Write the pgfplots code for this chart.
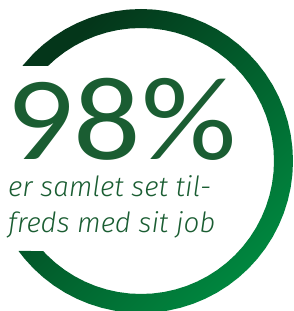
\documentclass[border=0pt]{standalone}
\usepackage{pgfplots}
\pgfplotsset{compat=1.18}
\usepackage{fontspec}
\newfontfamily\numfont{Carlito}
\newfontfamily\hand{Fira Sans Light}
\definecolor{ringDark}{HTML}{04361A}
\definecolor{ringMid}{HTML}{0A5A2C}
\definecolor{ringLight}{HTML}{00873F}
\definecolor{textGreen}{HTML}{1A5D32}
\begin{document}
\begin{tikzpicture}
\useasboundingbox (0,0) rectangle (294pt,311pt);
\begin{axis}[at={(0,0)}, anchor=south west, scale only axis,
  width=294pt, height=311pt,
  xmin=-141, xmax=153, ymin=-150, ymax=161,
  hide axis, clip=true]
% ring: 98% satisfied (outline of the visible arc, angle / radius)
\addplot[data cs=polar, draw=none, top color=ringDark, middle color=ringMid,
  bottom color=ringLight, shading angle=45] coordinates {
 (141.3,152) (135,152) (130,152) (125,152) (120,152) (115,152) (110,152)
 (105,152) (100,152) (95,152) (90,152) (85,152) (80,152) (75,152) (70,152)
 (65,152) (60,152) (55,152) (50,152) (45,152) (40,152) (35,152) (30,152)
 (25,152) (20,152) (15,152) (10,152) (5,152) (0,152) (-5,152) (-10,152)
 (-15,152) (-20,152) (-25,152) (-30,152) (-35,152) (-40,152) (-45,152)
 (-50,152) (-55,152) (-60,152) (-65,152) (-70,152) (-75,152) (-80,152)
 (-85,152) (-90,152) (-95,152) (-100,152) (-105,152) (-110,152) (-115,152)
 (-120,152) (-125,152) (-130,152) (-135,152) (-140,152) (-143.7,152)
 (-137.4,133) (-135,133) (-130,133) (-125,133) (-120,133) (-115,133)
 (-110,133) (-105,133) (-100,133) (-95,133) (-90,133) (-85,133) (-80,133)
 (-75,133) (-70,133) (-65,133) (-60,133) (-55,133) (-50,133) (-45,133)
 (-40,133) (-35,133) (-30,133) (-25,133) (-20,133) (-15,133) (-10,133)
 (-5,133) (0,133) (5,133) (10,133) (15,133) (20,133) (25,133) (30,133)
 (35,133) (40,133) (45,133) (50,133) (55,133) (60,133) (65,133) (70,133)
 (75,133) (80,133) (85,133) (90,133) (95,133) (100,133) (105,133)
 (110,133) (115,133) (120,133) (125,133) (130,133) (134.4,133)
} -- cycle;
\node[anchor=base west, inner sep=0pt, text=textGreen, font=\numfont\fontsize{119}{119}\selectfont]
  at (axis cs:-135,1) {\scalebox{1.12}[1]{98\%}};
\node[anchor=base west, inner sep=0pt, text=textGreen, font=\hand\itshape\fontsize{27.8}{30}\selectfont]
  at (axis cs:-133,-36) {er samlet set til-};
\node[anchor=base west, inner sep=0pt, text=textGreen, font=\hand\itshape\fontsize{27.8}{30}\selectfont]
  at (axis cs:-133,-71) {freds med sit job};
\end{axis}
\end{tikzpicture}
\end{document}
